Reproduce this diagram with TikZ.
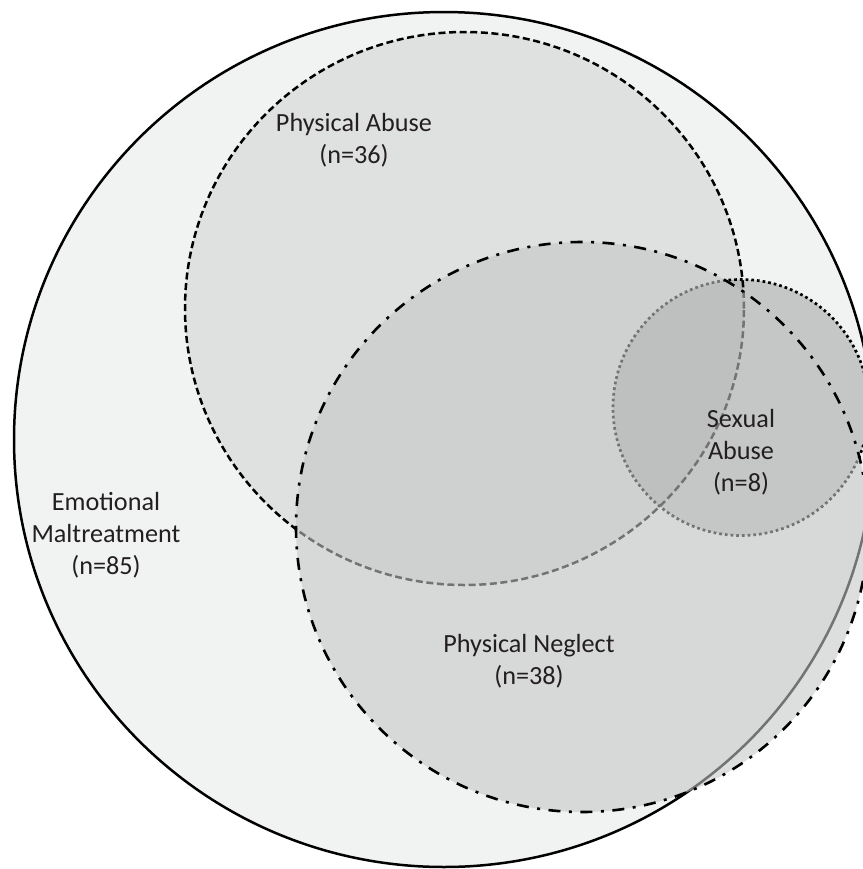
\documentclass[tikz,border=0pt]{standalone}
\usepackage{fontspec}
\setmainfont{Carlito}
\definecolor{bgfill}{HTML}{F1F2F2}
\definecolor{txt}{HTML}{231F20}
\definecolor{neglfill}{RGB}{197,198,198}
\begin{document}
\begin{tikzpicture}[x=0.5pt,y=-0.5pt,
  lbl/.style={align=center, font=\fontsize{13.1}{15.9}\selectfont, text=txt, inner sep=0pt},
  outerline/.style={draw=black, line width=1.25pt},
  abuseline/.style={draw=black, line width=1.25pt, dash pattern=on 3.5pt off 1.8pt},
  sexline/.style={draw=black, line width=1.35pt, dash pattern=on 1.35pt off 1.5pt},
  neglline/.style={draw=black, line width=1.3pt, dash pattern=on 6pt off 4.25pt on 1.5pt off 4.25pt}
]
\useasboundingbox (0,0) rectangle (863,869);
% Emotional maltreatment
\path[fill=bgfill, outerline] (444,439.5) ellipse [x radius=215pt, y radius=213.75pt];
% Physical abuse
\path[fill=black, fill opacity=0.07, abuseline] (464.5,308.5) ellipse [x radius=139.75pt, y radius=138.25pt];
% Sexual abuse
\path[fill=black, fill opacity=0.18, sexline] (741,407.5) circle [radius=64pt];
% Physical neglect
\path[fill=neglfill, fill opacity=0.585, neglline] (582,527) ellipse [x radius=143pt, y radius=142.5pt];
% labels
\node[lbl] (em) at (106,535) {Emotional\\Maltreatment\\(n=85)};
\node[lbl] (pa) at (354,140) {Physical Abuse\\(n=36)};
\node[lbl] (pn) at (529,661) {Physical Neglect\\(n=38)};
\node[lbl] (sa) at (741,452) {Sexual\\Abuse\\(n=8)};
\end{tikzpicture}
\end{document}
